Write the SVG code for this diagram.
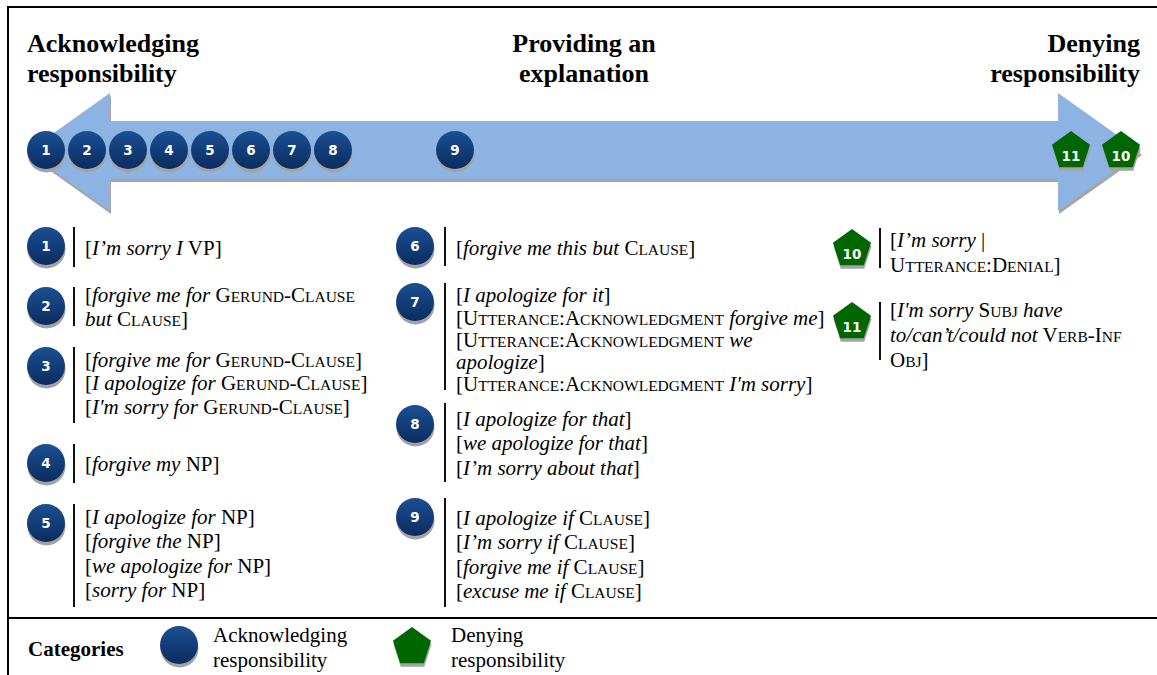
<svg xmlns="http://www.w3.org/2000/svg" xmlns:xlink="http://www.w3.org/1999/xlink" width="1157" height="675" viewBox="0 0 1157 675">
<style>
.t{font-weight:bold;font-size:26px;fill:#000}
.x{font-size:21px;fill:#000}
.lg{font-size:21px;fill:#000}
.i{font-style:italic}
.sc{font-size:15.5px}
.n{font-weight:bold;font-size:13.5px;fill:#fff;text-anchor:middle}
.bar{stroke:#111;stroke-width:2}
.frame{stroke:#000;stroke-width:2;fill:none}
</style>
<defs>
<linearGradient id="gb" x1="0" y1="0" x2="0" y2="1">
<stop offset="0" stop-color="#1B4F93"/>
<stop offset="1" stop-color="#0B2C5F"/>
</linearGradient>
<g id="disc"><circle cx="0.5" cy="3.5" r="19" fill="#A3A3A3"/><circle r="19" fill="url(#gb)"/></g>
<g id="pent"><polygon points="0,-20 19.02,-6.18 11.76,16.18 -11.76,16.18 -19.02,-6.18" fill="#A3A3A3" transform="translate(0.5,3.5)"/><polygon points="0,-20 19.02,-6.18 11.76,16.18 -11.76,16.18 -19.02,-6.18" fill="#006600"/></g>
</defs>
<rect width="1157" height="675" fill="#fff"/>
<g id="frame">
<line class="frame" x1="8" y1="7" x2="1157" y2="7"/>
<line class="frame" x1="8" y1="6" x2="8" y2="675"/>
<line class="frame" x1="8" y1="618" x2="1157" y2="618"/>
</g>
<g id="titles" font-family="Liberation Serif, serif">
<text class="t" x="27" y="52">Acknowledging</text>
<text class="t" x="27" y="82">responsibility</text>
<text class="t" x="584" y="52" text-anchor="middle">Providing an</text>
<text class="t" x="584" y="82" text-anchor="middle">explanation</text>
<text class="t" x="1140" y="52" text-anchor="end">Denying</text>
<text class="t" x="1140" y="82" text-anchor="end">responsibility</text>
</g>
<g id="connectors">
<polygon points="27,152 110,93 110,121 1058,121 1058,93 1141,152 1058,211 1058,179 110,179 110,211" fill="#A5A5A5" transform="translate(1,3)"/>
<polygon points="27,152 110,93 110,121 1058,121 1058,93 1141,152 1058,211 1058,179 110,179 110,211" fill="#8DB3E2"/>
</g>
<g id="scale-markers" font-family="DejaVu Sans, sans-serif">
<g id="m1"><use xlink:href="#disc" href="#disc" x="46" y="150"/><text class="n" x="46" y="155">1</text></g>
<g id="m2"><use xlink:href="#disc" href="#disc" x="87" y="150"/><text class="n" x="87" y="155">2</text></g>
<g id="m3"><use xlink:href="#disc" href="#disc" x="128" y="150"/><text class="n" x="128" y="155">3</text></g>
<g id="m4"><use xlink:href="#disc" href="#disc" x="169" y="150"/><text class="n" x="169" y="155">4</text></g>
<g id="m5"><use xlink:href="#disc" href="#disc" x="210" y="150"/><text class="n" x="210" y="155">5</text></g>
<g id="m6"><use xlink:href="#disc" href="#disc" x="251" y="150"/><text class="n" x="251" y="155">6</text></g>
<g id="m7"><use xlink:href="#disc" href="#disc" x="292" y="150"/><text class="n" x="292" y="155">7</text></g>
<g id="m8"><use xlink:href="#disc" href="#disc" x="333" y="150"/><text class="n" x="333" y="155">8</text></g>
<g id="m9"><use xlink:href="#disc" href="#disc" x="455" y="150"/><text class="n" x="455" y="155">9</text></g>
<g id="m11"><use xlink:href="#pent" href="#pent" x="1071" y="151"/><text class="n" x="1071" y="161">11</text></g>
<g id="m10"><use xlink:href="#pent" href="#pent" x="1121" y="151"/><text class="n" x="1121" y="161">10</text></g>
</g>
<g id="items" font-family="Liberation Serif, serif">
<g id="item1">
<use xlink:href="#disc" href="#disc" x="46" y="246"/><text class="n" font-family="DejaVu Sans, sans-serif" x="46" y="251">1</text>
<line class="bar" x1="74" y1="227" x2="74" y2="267"/>
<text class="x" x="85" y="255">[<tspan class="i">I’m sorry I</tspan> VP]</text>
</g>
<g id="item2">
<use xlink:href="#disc" href="#disc" x="46" y="306"/><text class="n" font-family="DejaVu Sans, sans-serif" x="46" y="311">2</text>
<line class="bar" x1="74" y1="287" x2="74" y2="326"/>
<text class="x" x="85" y="302">[<tspan class="i">forgive me for</tspan> G<tspan class="sc">ERUND</tspan>-C<tspan class="sc">LAUSE</tspan></text>
<text class="x" x="85" y="326"><tspan class="i">but</tspan> C<tspan class="sc">LAUSE</tspan>]</text>
</g>
<g id="item3">
<use xlink:href="#disc" href="#disc" x="46" y="366"/><text class="n" font-family="DejaVu Sans, sans-serif" x="46" y="371">3</text>
<line class="bar" x1="74" y1="347" x2="74" y2="423"/>
<text class="x" x="85" y="367">[<tspan class="i">forgive me for</tspan> G<tspan class="sc">ERUND</tspan>-C<tspan class="sc">LAUSE</tspan>]</text>
<text class="x" x="85" y="390">[<tspan class="i">I apologize for</tspan> G<tspan class="sc">ERUND</tspan>-C<tspan class="sc">LAUSE</tspan>]</text>
<text class="x" x="85" y="414">[<tspan class="i">I'm sorry for</tspan> G<tspan class="sc">ERUND</tspan>-C<tspan class="sc">LAUSE</tspan>]</text>
</g>
<g id="item4">
<use xlink:href="#disc" href="#disc" x="46" y="463"/><text class="n" font-family="DejaVu Sans, sans-serif" x="46" y="468">4</text>
<line class="bar" x1="74" y1="444" x2="74" y2="483"/>
<text class="x" x="85" y="471">[<tspan class="i">forgive my</tspan> NP]</text>
</g>
<g id="item5">
<use xlink:href="#disc" href="#disc" x="46" y="523"/><text class="n" font-family="DejaVu Sans, sans-serif" x="46" y="528">5</text>
<line class="bar" x1="74" y1="504" x2="74" y2="607"/>
<text class="x" x="85" y="524">[<tspan class="i">I apologize for</tspan> NP]</text>
<text class="x" x="85" y="548">[<tspan class="i">forgive the</tspan> NP]</text>
<text class="x" x="85" y="573">[<tspan class="i">we apologize for</tspan> NP]</text>
<text class="x" x="85" y="597">[<tspan class="i">sorry for</tspan> NP]</text>
</g>
<g id="item6">
<use xlink:href="#disc" href="#disc" x="415" y="246"/><text class="n" font-family="DejaVu Sans, sans-serif" x="415" y="251">6</text>
<line class="bar" x1="445" y1="227" x2="445" y2="266"/>
<text class="x" x="456" y="255">[<tspan class="i">forgive me this but</tspan> C<tspan class="sc">LAUSE</tspan>]</text>
</g>
<g id="item7">
<use xlink:href="#disc" href="#disc" x="415" y="302"/><text class="n" font-family="DejaVu Sans, sans-serif" x="415" y="307">7</text>
<line class="bar" x1="445" y1="283" x2="445" y2="390"/>
<text class="x" x="456" y="302">[<tspan class="i">I apologize for it</tspan>]</text>
<text class="x" x="456" y="325">[U<tspan class="sc">TTERANCE</tspan>:A<tspan class="sc">CKNOWLEDGMENT</tspan> <tspan class="i">forgive me</tspan>]</text>
<text class="x" x="456" y="347">[U<tspan class="sc">TTERANCE</tspan>:A<tspan class="sc">CKNOWLEDGMENT</tspan> <tspan class="i">we</tspan></text>
<text class="x" x="456" y="369"><tspan class="i">apologize</tspan>]</text>
<text class="x" x="456" y="391">[U<tspan class="sc">TTERANCE</tspan>:A<tspan class="sc">CKNOWLEDGMENT</tspan> <tspan class="i">I'm sorry</tspan>]</text>
</g>
<g id="item8">
<use xlink:href="#disc" href="#disc" x="415" y="424"/><text class="n" font-family="DejaVu Sans, sans-serif" x="415" y="429">8</text>
<line class="bar" x1="445" y1="403" x2="445" y2="482"/>
<text class="x" x="456" y="426">[<tspan class="i">I apologize for that</tspan>]</text>
<text class="x" x="456" y="450">[<tspan class="i">we apologize for that</tspan>]</text>
<text class="x" x="456" y="475">[<tspan class="i">I’m sorry about that</tspan>]</text>
</g>
<g id="item9">
<use xlink:href="#disc" href="#disc" x="415" y="517"/><text class="n" font-family="DejaVu Sans, sans-serif" x="415" y="522">9</text>
<line class="bar" x1="445" y1="498" x2="445" y2="607"/>
<text class="x" x="456" y="525">[<tspan class="i">I apologize if</tspan> C<tspan class="sc">LAUSE</tspan>]</text>
<text class="x" x="456" y="549">[<tspan class="i">I’m sorry if</tspan> C<tspan class="sc">LAUSE</tspan>]</text>
<text class="x" x="456" y="574">[<tspan class="i">forgive me if</tspan> C<tspan class="sc">LAUSE</tspan>]</text>
<text class="x" x="456" y="598">[<tspan class="i">excuse me if</tspan> C<tspan class="sc">LAUSE</tspan>]</text>
</g>
<g id="item10">
<use xlink:href="#pent" href="#pent" x="852" y="249"/><text class="n" font-family="DejaVu Sans, sans-serif" x="852" y="259">10</text>
<line class="bar" x1="880" y1="228" x2="880" y2="268"/>
<text class="x" x="890" y="247">[<tspan class="i">I’m sorry</tspan> |</text>
<text class="x" x="890" y="272">U<tspan class="sc">TTERANCE</tspan>:D<tspan class="sc">ENIAL</tspan>]</text>
</g>
<g id="item11">
<use xlink:href="#pent" href="#pent" x="852" y="322"/><text class="n" font-family="DejaVu Sans, sans-serif" x="852" y="332">11</text>
<line class="bar" x1="880" y1="302" x2="880" y2="360"/>
<text class="x" x="890" y="317">[<tspan class="i">I'm sorry</tspan> S<tspan class="sc">UBJ</tspan> <tspan class="i">have</tspan></text>
<text class="x" x="890" y="342"><tspan class="i">to/can’t/could not</tspan> V<tspan class="sc">ERB</tspan>-I<tspan class="sc">NF</tspan></text>
<text class="x" x="890" y="367">O<tspan class="sc">BJ</tspan>]</text>
</g>
</g>
<g id="legend" font-family="Liberation Serif, serif">
<text class="lg" x="28" y="656" font-weight="bold">Categories</text>
<g id="legend-ack">
<use xlink:href="#disc" href="#disc" x="179" y="645"/>
<text class="lg" x="213" y="642">Acknowledging</text>
<text class="lg" x="213" y="667">responsibility</text>
</g>
<g id="legend-deny">
<use xlink:href="#pent" href="#pent" x="412" y="647"/>
<text class="lg" x="451" y="642">Denying</text>
<text class="lg" x="451" y="667">responsibility</text>
</g>
</g>
</svg>
